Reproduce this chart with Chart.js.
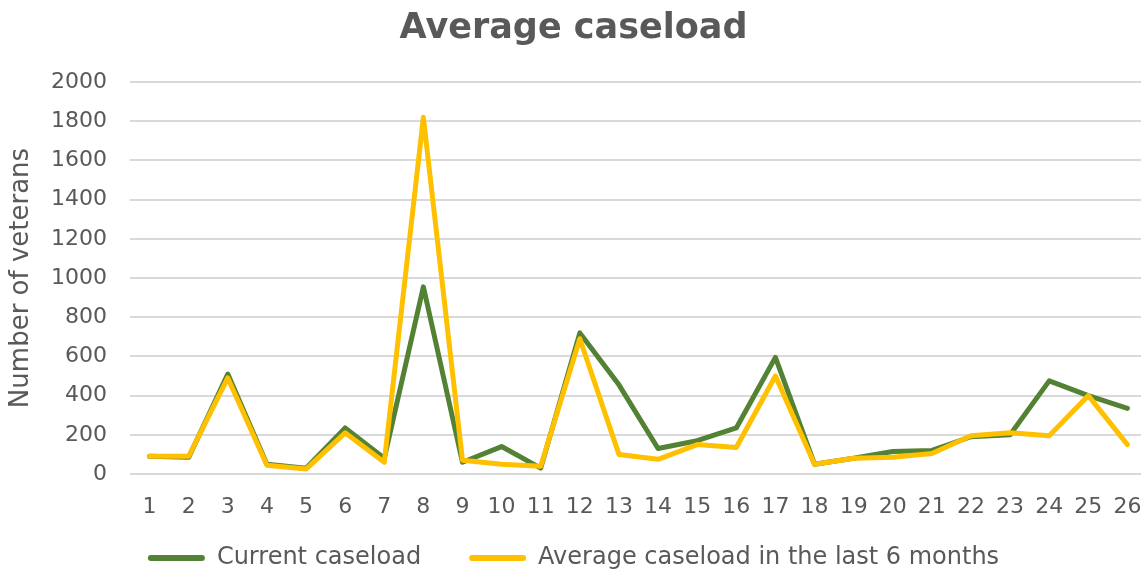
<!DOCTYPE html>
<html>
<head>
<meta charset="utf-8">
<script src="https://cdn.jsdelivr.net/npm/chart.js@4/dist/chart.umd.min.js"></script>
<style>
  html, body { margin: 0; padding: 0; background: #fff; overflow: hidden; }
  #wrap { width: 1141px; height: 570px; overflow: hidden; }
</style>
</head>
<body>
<div id="wrap"><canvas id="caseloadChart" width="1147" height="606"></canvas></div>
<script>
// ── Data ─────────────────────────────────────────────────────────────────────

const SITES = ['1', '2', '3', '4', '5', '6', '7', '8', '9', '10', '11', '12', '13',
               '14', '15', '16', '17', '18', '19', '20', '21', '22', '23', '24', '25', '26'];

const CURRENT = [90, 85, 510, 50, 30, 235, 80, 955, 60, 140, 30, 720, 455,
                 130, 170, 235, 595, 50, 80, 115, 120, 190, 200, 475, 400, 335];

const AVG_6M = [90, 90, 490, 45, 25, 210, 60, 1820, 70, 50, 40, 690, 100,
                75, 150, 135, 500, 50, 80, 85, 105, 195, 210, 195, 400, 150];

const Y_TICKS = [0, 200, 400, 600, 800, 1000, 1200, 1400, 1600, 1800, 2000];

// ── Style ────────────────────────────────────────────────────────────────────

const GREEN = '#548235';
const GOLD = '#FFC000';
const TEXT = '#595959';
const GRID = '#D9D9D9';
const FONT = 'DejaVu Sans';
const LEGEND_LIFT = 26;   // pull the legend row up closer to the axis labels

// Legend entries drawn as flat rounded bars, no outline
function legendLabels(chart) {
    return Chart.defaults.plugins.legend.labels.generateLabels(chart)
        .map(item => ({ ...item, lineWidth: 0, borderRadius: 3 }));
}

const liftLegend = {
    id: 'liftLegend',
    afterLayout(chart) {
        chart.legend.top -= LEGEND_LIFT;
        chart.legend.bottom -= LEGEND_LIFT;
    }
};

// ── Chart ────────────────────────────────────────────────────────────────────

new Chart(document.getElementById('caseloadChart'), {
    type: 'line',
    data: {
        labels: SITES,
        datasets: [
            {
                label: 'Current caseload',
                data: CURRENT,
                borderColor: GREEN,
                backgroundColor: GREEN,
                borderWidth: 5,
                pointRadius: 0,
                borderJoinStyle: 'round',
                borderCapStyle: 'round',
                order: 2
            },
            {
                label: 'Average caseload in the last 6 months',
                data: AVG_6M,
                borderColor: GOLD,
                backgroundColor: GOLD,
                borderWidth: 5,
                pointRadius: 0,
                borderJoinStyle: 'round',
                borderCapStyle: 'round',
                order: 1
            }
        ]
    },
    plugins: [liftLegend],
    options: {
        responsive: false,
        animation: false,
        layout: { padding: { left: 0, right: 0, top: 4, bottom: 0 } },
        plugins: {
            title: {
                display: true,
                text: 'Average caseload',
                color: TEXT,
                font: { family: FONT, size: 35, weight: 'bold' },
                padding: { top: 4, bottom: 32 }
            },
            legend: {
                position: 'bottom',
                labels: {
                    color: TEXT,
                    font: { family: FONT, size: 24 },
                    boxWidth: 57,
                    boxHeight: 6,
                    padding: 48,
                    generateLabels: legendLabels,
                    sort: (a, b) => a.datasetIndex - b.datasetIndex
                }
            },
            tooltip: { enabled: false }
        },
        scales: {
            x: {
                offset: true,
                grid: { display: false, drawTicks: false },
                border: { display: false },
                afterFit: axis => { axis.height = 50; },
                ticks: {
                    color: TEXT,
                    font: { family: FONT, size: 22, lineHeight: 2.64 },
                    padding: 4,
                    maxRotation: 0,
                    autoSkip: false
                }
            },
            y: {
                min: 0,
                max: 2000,
                afterBuildTicks: axis => { axis.ticks = Y_TICKS.map(v => ({ value: v })); },
                afterFit: axis => { axis.width = 130; },
                grid: { color: GRID, lineWidth: 2, drawTicks: false },
                border: { display: false },
                title: {
                    display: true,
                    text: 'Number of veterans',
                    color: TEXT,
                    font: { family: FONT, size: 26 },
                    padding: { top: 6, bottom: 10 }
                },
                ticks: {
                    color: TEXT,
                    font: { family: FONT, size: 22 },
                    padding: 23,
                    callback: v => String(v)
                }
            }
        }
    }
});
</script>
</body>
</html>
